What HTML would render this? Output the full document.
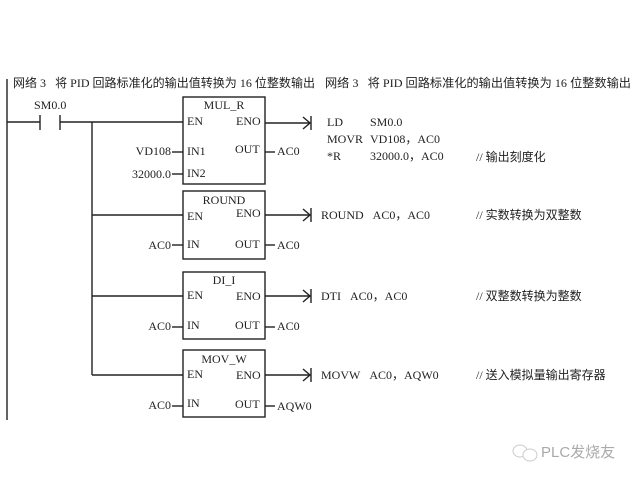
<!DOCTYPE html>
<html><head><meta charset="utf-8"><style>
body{margin:0;background:#fff;}
svg{display:block}
text{font-family:"Liberation Serif","Noto Serif CJK SC","Noto Sans CJK SC",serif;font-size:12px;fill:#222;dominant-baseline:middle}
.c{font-family:"Liberation Serif","Noto Sans CJK SC",sans-serif}
line,rect,path{stroke:#222;stroke-width:1.4;fill:none}
</style></head><body>
<svg width="640" height="480" viewBox="0 0 640 480">
<rect x="0" y="0" width="640" height="480" style="fill:#fff;stroke:none"/>
<text x="13" y="84" class="c" textLength="302" lengthAdjust="spacingAndGlyphs">网络 3&#160;&#160;&#160;将 PID 回路标准化的输出值转换为 16 位整数输出</text>
<text x="325" y="84" class="c" textLength="306" lengthAdjust="spacingAndGlyphs">网络 3&#160;&#160;&#160;将 PID 回路标准化的输出值转换为 16 位整数输出</text>
<line x1="7" y1="79" x2="7" y2="420"/>
<text x="34" y="106">SM0.0</text>
<line x1="7" y1="122" x2="40" y2="122"/>
<line x1="40" y1="115" x2="40" y2="130"/>
<line x1="60" y1="115" x2="60" y2="130"/>
<line x1="60" y1="122" x2="183" y2="122"/>
<line x1="92" y1="122" x2="92" y2="375"/>
<line x1="92" y1="215" x2="183" y2="215"/>
<line x1="92" y1="296" x2="183" y2="296"/>
<line x1="92" y1="375" x2="183" y2="375"/>
<rect x="183" y="97" width="82" height="87"/>
<rect x="183" y="191" width="82" height="68"/>
<rect x="183" y="272" width="82" height="67"/>
<rect x="183" y="350" width="82" height="67"/>
<text x="224" y="106" text-anchor="middle">MUL_R</text>
<text x="187" y="122">EN</text><text x="236" y="122">ENO</text>
<text x="187" y="152">IN1</text><text x="235" y="150">OUT</text>
<text x="187" y="174">IN2</text>
<line x1="172" y1="152" x2="183" y2="152"/><text x="171" y="152" text-anchor="end">VD108</text>
<line x1="172" y1="174" x2="183" y2="174"/><text x="171" y="175" text-anchor="end">32000.0</text>
<line x1="265" y1="152" x2="275" y2="152"/><text x="277" y="152">AC0</text>
<text x="224" y="201" text-anchor="middle">ROUND</text>
<text x="187" y="217">EN</text><text x="236" y="214">ENO</text>
<text x="187" y="245">IN</text><text x="235" y="245">OUT</text>
<line x1="172" y1="245" x2="183" y2="245"/><text x="171" y="246" text-anchor="end">AC0</text>
<line x1="265" y1="245" x2="275" y2="245"/><text x="277" y="246">AC0</text>
<text x="224" y="281" text-anchor="middle">DI_I</text>
<text x="187" y="296">EN</text><text x="236" y="297">ENO</text>
<text x="187" y="326">IN</text><text x="235" y="326">OUT</text>
<line x1="172" y1="327" x2="183" y2="327"/><text x="171" y="327" text-anchor="end">AC0</text>
<line x1="265" y1="327" x2="275" y2="327"/><text x="277" y="327">AC0</text>
<text x="224" y="360" text-anchor="middle">MOV_W</text>
<text x="187" y="375">EN</text><text x="236" y="376">ENO</text>
<text x="187" y="404">IN</text><text x="235" y="405">OUT</text>
<line x1="172" y1="406" x2="183" y2="406"/><text x="171" y="406" text-anchor="end">AC0</text>
<line x1="265" y1="406" x2="275" y2="406"/><text x="277" y="407">AQW0</text>
<g>
<line x1="265" y1="123" x2="310" y2="123"/><path d="M303 117 L310 123 L303 129"/><line x1="311" y1="116" x2="311" y2="130"/>
<line x1="265" y1="215" x2="310" y2="215"/><path d="M303 209 L310 215 L303 221"/><line x1="311" y1="208" x2="311" y2="222"/>
<line x1="265" y1="296" x2="310" y2="296"/><path d="M303 290 L310 296 L303 302"/><line x1="311" y1="289" x2="311" y2="303"/>
<line x1="265" y1="375" x2="310" y2="375"/><path d="M303 369 L310 375 L303 381"/><line x1="311" y1="368" x2="311" y2="382"/>
</g>
<text x="327" y="123">LD</text><text x="370" y="123">SM0.0</text>
<text x="327" y="140">MOVR</text><text x="370" y="140" class="c">VD108，AC0</text>
<text x="327" y="157">*R</text><text x="370" y="157" class="c">32000.0，AC0</text>
<text x="476" y="158" class="c">// 输出刻度化</text>
<text x="321" y="216" class="c">ROUND&#160;&#160;&#160;AC0，AC0</text>
<text x="476" y="216" class="c">// 实数转换为双整数</text>
<text x="321" y="297" class="c">DTI&#160;&#160;&#160;AC0，AC0</text>
<text x="476" y="297" class="c">// 双整数转换为整数</text>
<text x="321" y="376" class="c">MOVW&#160;&#160;&#160;AC0，AQW0</text>
<text x="476" y="376" class="c">// 送入模拟量输出寄存器</text>
<g style="opacity:0.5">
<ellipse cx="520" cy="451" rx="7" ry="6" style="fill:none;stroke:#999;stroke-width:1"/>
<ellipse cx="530" cy="455" rx="7" ry="6" style="fill:#fff;stroke:#999;stroke-width:1"/>
</g>
<text x="541" y="453" style="fill:#aaa;font-family:'Liberation Sans','Noto Sans CJK SC',sans-serif;font-size:15px">PLC发烧友</text>
</svg>
</body></html>
